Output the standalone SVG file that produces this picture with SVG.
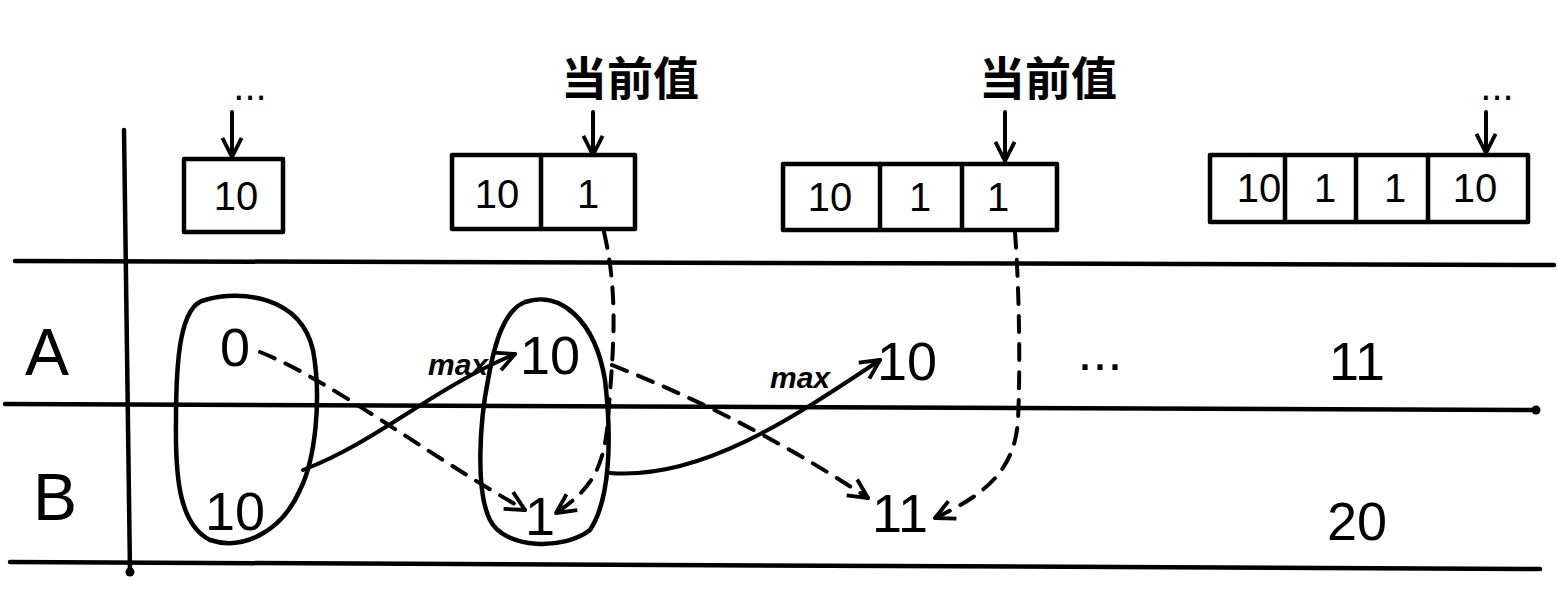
<svg xmlns="http://www.w3.org/2000/svg" width="1557" height="614" viewBox="0 0 1557 614">
<defs>
<style>
.ln{stroke:#000;stroke-width:4.5;fill:none;stroke-linecap:round}
.bx{stroke:#000;stroke-width:4.5;fill:none;stroke-linejoin:round}
.dash{stroke:#000;stroke-width:4;fill:none;stroke-dasharray:16 12;stroke-linecap:round}
.sol{stroke:#000;stroke-width:4;fill:none;stroke-linecap:round}
.t{font-family:"Liberation Sans","Noto Sans CJK SC",sans-serif;fill:#000;text-anchor:middle}
.cell{font-size:40px}
.val{font-size:54px}
.lab{font-size:66px}
.cn{font-size:46px;font-family:"Noto Sans CJK SC",sans-serif;font-weight:bold}
.mx{font-size:30px;font-weight:bold;font-style:italic}
</style>
<marker id="ah2" viewBox="0 0 10 10" refX="9" refY="5" markerWidth="24" markerHeight="24" orient="auto" markerUnits="userSpaceOnUse">
<path d="M1,1 L9,5 L1,9" fill="none" stroke="#000" stroke-width="1.6" stroke-linejoin="round"/>
</marker>
</defs>
<rect width="1557" height="614" fill="#fff"/>

<g id="grid">
<line class="ln" x1="15" y1="261" x2="1554" y2="265"/>
<line class="ln" x1="5" y1="404" x2="1535" y2="410"/>
<circle cx="1536" cy="410" r="4.5"/>
<line class="ln" x1="10" y1="562" x2="1540" y2="569"/>
<line class="ln" x1="124" y1="130" x2="130" y2="572"/>
<circle cx="130" cy="572" r="4.5"/>
</g>

<g id="labelA"><text class="t lab" x="47" y="375">A</text></g>
<g id="labelB"><text class="t lab" x="55" y="520">B</text></g>

<g id="array1">
<rect class="bx" x="184" y="159" width="99" height="73"/>
<text class="t cell" x="236" y="210">10</text>
<text class="t cell" x="250" y="100">...</text>
</g>

<g id="array2">
<rect class="bx" x="452" y="155" width="183" height="74"/>
<line class="ln" x1="541" y1="155" x2="541" y2="229"/>
<text class="t cell" x="497" y="208">10</text>
<text class="t cell" x="588" y="208">1</text>
<text class="t cn" x="630" y="95">当前值</text>
</g>

<g id="array3">
<rect class="bx" x="783" y="164" width="274" height="66"/>
<line class="ln" x1="880" y1="164" x2="880" y2="230"/>
<line class="ln" x1="962" y1="164" x2="962" y2="230"/>
<text class="t cell" x="830" y="211">10</text>
<text class="t cell" x="920" y="211">1</text>
<text class="t cell" x="998" y="211">1</text>
<text class="t cn" x="1048" y="95">当前值</text>
</g>

<g id="array4">
<rect class="bx" x="1210" y="155" width="318" height="67"/>
<line class="ln" x1="1285" y1="155" x2="1285" y2="222"/>
<line class="ln" x1="1356" y1="155" x2="1356" y2="222"/>
<line class="ln" x1="1428" y1="155" x2="1428" y2="222"/>
<text class="t cell" x="1259" y="202">10</text>
<text class="t cell" x="1325" y="202">1</text>
<text class="t cell" x="1395" y="202">1</text>
<text class="t cell" x="1475" y="202">10</text>
<text class="t cell" x="1497" y="100">...</text>
</g>

<g id="group1">
<path class="ln" d="M205,300 C240,290 300,295 313,350 C322,400 315,460 300,490 C280,535 240,550 210,540 C180,525 175,480 176,420 C176,360 180,305 205,300 Z"/>
<text class="t val" x="235" y="366">0</text>
<text class="t val" x="235" y="530">10</text>
</g>

<g id="group2">
<path class="ln" d="M525,302 C560,290 595,320 605,380 C612,440 610,500 590,530 C565,550 505,550 490,520 C475,490 480,420 488,380 C495,340 505,310 525,302 Z"/>
<text class="t val" x="550" y="374">10</text>
<text class="t val" x="540" y="535">1</text>
</g>

<g id="col3">
<text class="t val" x="907" y="380">10</text>
<text class="t val" x="900" y="532">11</text>
</g>
<g id="col4">
<text class="t val" x="1100" y="370">...</text>
</g>
<g id="col5">
<text class="t val" x="1357" y="380">11</text>
<text class="t val" x="1357" y="540">20</text>
</g>

<g id="connectors">
<line class="sol" x1="232" y1="112" x2="232" y2="157" marker-end="url(#ah2)"/>
<line class="sol" x1="593" y1="112" x2="593" y2="155" marker-end="url(#ah2)"/>
<line class="sol" x1="1005" y1="112" x2="1005" y2="161" marker-end="url(#ah2)"/>
<line class="sol" x1="1486" y1="112" x2="1486" y2="153" marker-end="url(#ah2)"/>

<path class="dash" d="M260,352 C330,380 420,450 525,510" marker-end="url(#ah2)"/>
<path class="sol" d="M303,470 C380,440 430,390 515,354" marker-end="url(#ah2)"/>
<text class="t mx" x="458" y="375">max</text>

<path class="dash" d="M612,365 C700,400 780,440 868,498" marker-end="url(#ah2)"/>
<path class="sol" d="M610,473 C700,480 790,420 880,360" marker-end="url(#ah2)"/>
<text class="t mx" x="800" y="388">max</text>

<path class="dash" d="M604,232 C620,300 612,360 608,420 C604,470 590,490 556,513" marker-end="url(#ah2)"/>
<path class="dash" d="M1015,232 C1020,300 1020,380 1018,420 C1015,470 985,495 935,518" marker-end="url(#ah2)"/>
</g>
</svg>
